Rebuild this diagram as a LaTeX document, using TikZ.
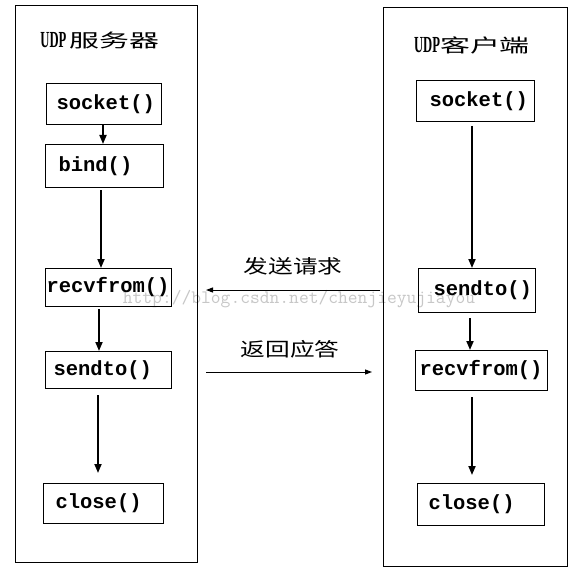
\documentclass[tikz,border=0pt]{standalone}
\usepackage{fontspec}
\newfontfamily\fnfont{Liberation Mono}
\newfontfamily\cjktitle[FakeStretch=1.62]{Noto Sans CJK SC}
\newfontfamily\cjklabel[FakeStretch=1.3]{Noto Sans CJK SC}
\newfontfamily\udpfont[FakeStretch=0.55]{Liberation Serif}
\usetikzlibrary{arrows.meta}
\begin{document}
\begin{tikzpicture}[x=1pt,y=-1pt,
  container/.style={draw, line width=1pt, inner sep=0pt, anchor=north west},
  fn/.style={draw, line width=1pt, anchor=north west, inner ysep=0pt, align=left,
    font=\fnfont\bfseries\fontsize{20.5}{20.5}\selectfont},
  flow/.style={line width=1.8pt, -{Triangle[length=9pt,width=7pt]}},
  msg/.style={line width=1pt, -{Triangle[length=7pt,width=5pt]}},
  title/.style={inner sep=0pt},
  msglabel/.style={inner sep=0pt, font=\cjklabel\fontsize{19}{19}\selectfont},
  watermark/.style={inner sep=0pt, text=black!22, font=\ttfamily\fontsize{19}{19}\selectfont}
]
\useasboundingbox[fill=white] (0,0) rectangle (579,580);

% watermark
\node[watermark] (wm) at (299,299) {http://blog.csdn.net/chenjieyujiayou};

% containers
\node[container, minimum width=182pt, minimum height=557pt] (lc) at (15,5) {};
\node[container, minimum width=184pt, minimum height=559pt] (rc) at (383,7) {};

% titles
\node[title] (lt) at (100,40) {{\udpfont\bfseries\fontsize{23}{23}\selectfont UDP} {\cjktitle\fontsize{18.5}{18.5}\selectfont 服务器}};
\node[title] (rt) at (472,45) {{\udpfont\bfseries\fontsize{23}{23}\selectfont UDP}{\cjktitle\fontsize{18.5}{18.5}\selectfont 客户端}};

% server boxes
\node[fn, minimum height=41pt, text width=95pt, inner xsep=10pt] (ls) at (46,83) {socket()};
\node[fn, minimum height=43pt, text width=92pt, inner xsep=13pt] (lb) at (45,144) {bind()};
\node[fn, minimum height=38pt, text width=124pt, inner xsep=1pt] (lr) at (45,268) {recvfrom()};
\node[fn, minimum height=37pt, text width=110pt, inner xsep=8pt] (lsd) at (45,351) {sendto()};
\node[fn, minimum height=40pt, text width=96pt, inner xsep=12pt] (lcl) at (43,483) {close()};

% client boxes
\node[fn, minimum height=41pt, text width=92pt, inner xsep=13pt] (rs) at (416,80) {socket()};
\node[fn, minimum height=44pt, text width=87pt, inner xsep=15pt] (rsd) at (418,268) {sendto()};
\node[fn, minimum height=40pt, text width=124pt, inner xsep=4pt] (rr) at (415,350) {recvfrom()};
\node[fn, minimum height=42pt, text width=105pt, inner xsep=11pt] (rcl) at (417,483) {close()};

% x positions of vertical arrows
\coordinate (xa) at (103,0);
\coordinate (xb) at (101,0);
\coordinate (xc) at (99,0);
\coordinate (xd) at (98,0);
\coordinate (xe) at (472,0);
\coordinate (xf) at (470,0);
\coordinate (xg) at (472,0);

% server flow
\draw[flow] (ls.south -| xa) -- (lb.north -| xa);
\draw[flow, shorten <=2pt] (lb.south -| xb) -- (lr.north -| xb);
\draw[flow, shorten <=2pt] (lr.south -| xc) -- (lsd.north -| xc);
\draw[flow, shorten <=6pt, shorten >=10pt] (lsd.south -| xd) -- (lcl.north -| xd);

% client flow
\draw[flow, shorten <=4pt] (rs.south -| xe) -- (rsd.north -| xe);
\draw[flow, shorten <=5pt] (rsd.south -| xf) -- (rr.north -| xf);
\draw[flow, shorten <=6pt, shorten >=8pt] (rr.south -| xg) -- (rcl.north -| xg);

% messages
\coordinate (ya) at (0,290);
\coordinate (yb) at (0,372);
\draw[msg, shorten <=3pt, shorten >=8pt] (rc.west |- ya) -- (lc.east |- ya);
\draw[msg, shorten <=8pt, shorten >=11pt] (lc.east |- yb) -- (rc.west |- yb);
\node[msglabel] (m1) at (293,266) {发送请求};
\node[msglabel] (m2) at (290,349) {返回应答};
\end{tikzpicture}
\end{document}
